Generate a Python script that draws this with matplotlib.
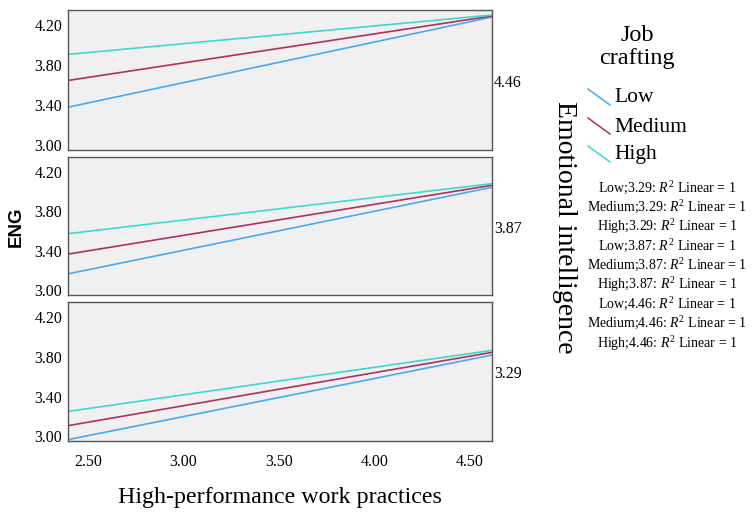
"""
Three-panel SPSS-style interaction plot: ENG vs high-performance work practices,
split by emotional intelligence level, one fit line per job crafting group.
"""

import matplotlib
matplotlib.use("Agg")
import matplotlib.pyplot as plt
from matplotlib.lines import Line2D

W, H = 752, 514

# x range covered by the fit lines
HPWP_RANGE = [2.395, 4.615]

# emotional intelligence levels, top panel first
EI_LEVELS = ["4.46", "3.87", "3.29"]

GROUPS = ["Low", "Medium", "High"]
GROUP_COLORS = ["#4ba8f2", "#b0305e", "#3fd8cc"]

# fitted ENG at the left and right end of HPWP_RANGE, per panel
ENG_LOW = [[3.38, 4.28], [3.167, 4.044], [2.967, 3.817]]
ENG_MEDIUM = [[3.647, 4.29], [3.367, 4.064], [3.107, 3.844]]
ENG_HIGH = [[3.907, 4.30], [3.574, 4.08], [3.25, 3.864]]

Y_TICKS = [3.00, 3.40, 3.80, 4.20]
X_TICKS = [2.50, 3.00, 3.50, 4.00, 4.50]

FIT_LABELS = [f"{g};{lvl}: $R^2$ Linear = 1" for lvl in ["3.29", "3.87", "4.46"] for g in GROUPS]

SERIF = "Liberation Serif"
plt.rcParams["font.family"] = SERIF
plt.rcParams["mathtext.fontset"] = "custom"
plt.rcParams["mathtext.rm"] = SERIF
plt.rcParams["mathtext.it"] = SERIF + ":italic"


def fig_xy(x, y):
    """Pixel position (from top-left) to figure fraction."""
    return x / W, 1 - y / H


def main():
    fig = plt.figure(figsize=(W / 100, H / 100), dpi=100)

    panel_rows = [(10, 150), (157, 295), (302, 441)]
    left, right = 68, 492
    series = [ENG_LOW, ENG_MEDIUM, ENG_HIGH]

    for i, (top, bottom) in enumerate(panel_rows):
        ax = fig.add_axes([left / W, 1 - bottom / H, (right - left) / W, (bottom - top) / H])
        ax.set_facecolor("#f0f0f0")
        for values, color in zip(series, GROUP_COLORS):
            ax.plot(HPWP_RANGE, values[i], color=color, lw=1.2)
        ax.set_xlim(HPWP_RANGE)
        ax.set_ylim(2.953, 4.35)
        ax.set_yticks(Y_TICKS)
        ax.set_yticklabels([f"{v:.2f}" for v in Y_TICKS])
        ax.set_xticks(X_TICKS)
        if i == len(panel_rows) - 1:
            ax.set_xticklabels([f"{v:.2f}" for v in X_TICKS])
        else:
            ax.set_xticklabels([])
        ax.tick_params(length=0, labelsize=11.5, pad=4)
        ax.tick_params(axis="x", pad=9)
        for sp in ax.spines.values():
            sp.set_color("#555555")
            sp.set_linewidth(1.0)
        ax.text(1.005, 0.48, EI_LEVELS[i], transform=ax.transAxes,
                ha="left", va="center", fontsize=11.5)

    fig.text(*fig_xy(280, 498), "High-performance work practices",
             ha="center", va="center", fontsize=17.3)
    fig.text(*fig_xy(16, 227), "ENG", rotation=90, ha="center", va="center",
             fontsize=13.5, fontweight="bold", family="Liberation Sans")
    fig.text(*fig_xy(565, 227), "Emotional intelligence", rotation=-90,
             ha="center", va="center", fontsize=20)

    # legend
    fig.text(*fig_xy(637, 47), "Job\ncrafting", ha="center", va="center",
             fontsize=17.5, linespacing=1.15)
    row_y = [98, 127, 155]
    for name, color, y in zip(GROUPS, GROUP_COLORS, row_y):
        x0, y0 = fig_xy(588, y - 9)
        x1, y1 = fig_xy(610, y + 7)
        fig.add_artist(Line2D([x0, x1], [y0, y1], color=color, lw=1.1))
        fig.text(*fig_xy(614, y), name, ha="left", va="center", fontsize=15.5)

    for k, label in enumerate(FIT_LABELS):
        fig.text(*fig_xy(667, 188 + k * 19.4), label, ha="center", va="center",
                 fontsize=10)

    fig.savefig("out.png", dpi=100)
    plt.close(fig)


if __name__ == "__main__":
    main()
